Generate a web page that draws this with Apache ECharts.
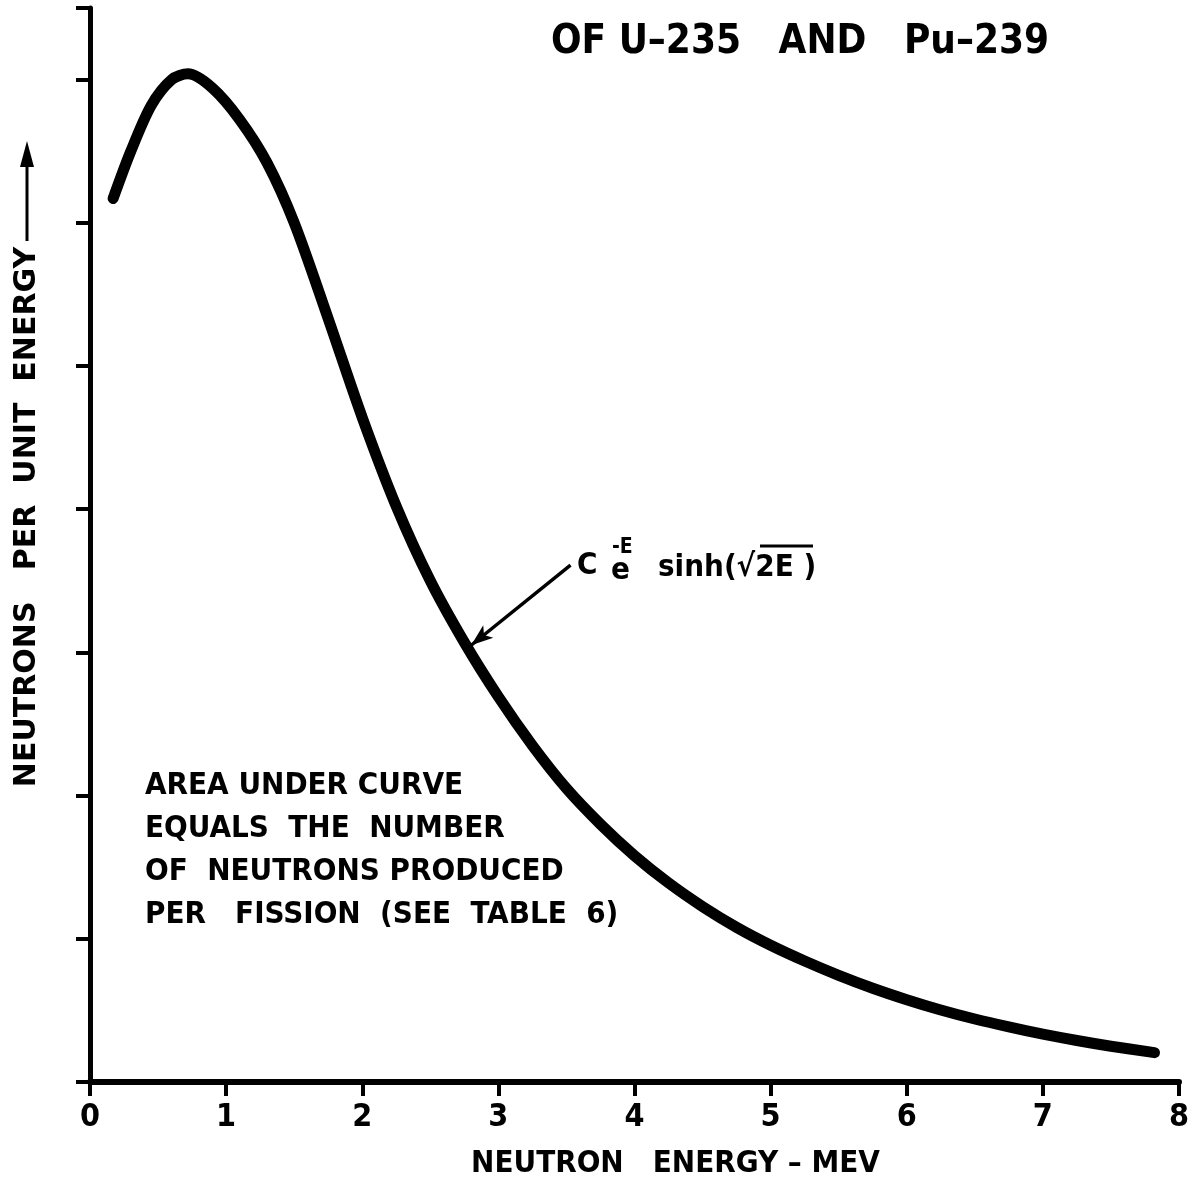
<!DOCTYPE html>
<html>
<head>
<meta charset="utf-8">
<script src="https://cdn.jsdelivr.net/npm/echarts@6/dist/echarts.min.js"></script>
<style>
  html, body { margin: 0; padding: 0; background: #fff; }
  #chart { width: 1193px; height: 1189px; }
</style>
</head>
<body>
<div id="chart"></div>
<script>
// fission neutron spectrum (arbitrary units)
var energy = [0.17, 0.30, 0.45, 0.60, 0.72, 0.90, 1.10, 1.30, 1.50, 1.75, 2.00, 2.25, 2.50, 2.75, 3.00, 3.25, 3.50, 3.75, 4.00, 4.25, 4.50, 4.75, 5.00, 5.25, 5.50, 5.75, 6.00, 6.25, 6.50, 6.75, 7.00, 7.25, 7.50, 7.82];
var neutrons = [6.17, 6.50, 6.82, 7.00, 7.04, 6.94, 6.72, 6.42, 6.00, 5.33, 4.64, 4.02, 3.50, 3.07, 2.69, 2.35, 2.05, 1.80, 1.58, 1.39, 1.225, 1.08, 0.955, 0.845, 0.745, 0.655, 0.575, 0.503, 0.44, 0.385, 0.335, 0.29, 0.25, 0.205];
var xTicks = ['0', '1', '2', '3', '4', '5', '6', '7', '8'];
// arrow from the formula to the curve, in data coords
var arrowFrom = [3.53, 3.61];
var arrowTo = [2.80, 3.05];

var noteLines = [
  'AREA UNDER CURVE',
  'EQUALS  THE  NUMBER',
  'OF  NEUTRONS PRODUCED',
  'PER   FISSION  (SEE  TABLE  6)'
];

var font = '"DejaVu Sans Condensed", "DejaVu Sans", sans-serif';
var wideFont = '"DejaVu Sans", sans-serif';

var pts = [];
for (var i = 0; i < energy.length; i++) {
  pts.push([energy[i], neutrons[i]]);
}

var graphics = [];
// title
graphics.push({
  type: 'text', x: 800, y: 43,
  style: { text: 'OF U\u2013235   AND   Pu\u2013239', font: 'bold 40px ' + font, fill: '#000', align: 'center', verticalAlign: 'middle' }
});
// note block
for (var k = 0; k < noteLines.length; k++) {
  graphics.push({
    type: 'text', x: 145, y: 786 + k * 43,
    style: { text: noteLines[k], font: 'bold 31px ' + font, fill: '#000', align: 'left', verticalAlign: 'middle' }
  });
}
// formula
graphics.push({ type: 'text', x: 577, y: 566, style: { text: 'C', font: 'bold 31px ' + font, fill: '#000', verticalAlign: 'middle' } });
graphics.push({ type: 'text', x: 611, y: 571, style: { text: 'e', font: 'bold 31px ' + font, fill: '#000', verticalAlign: 'middle' } });
graphics.push({ type: 'text', x: 612, y: 548, style: { text: '-E', font: 'bold 21px ' + font, fill: '#000', verticalAlign: 'middle' } });
graphics.push({ type: 'text', x: 658, y: 568, style: { text: 'sinh(\u221A2E )', font: 'bold 31px ' + font, fill: '#000', verticalAlign: 'middle' } });
graphics.push({ type: 'line', shape: { x1: 760, y1: 546, x2: 813, y2: 546 }, style: { stroke: '#000', lineWidth: 3 } });
// y axis title with arrow
graphics.push({
  type: 'group', x: 27, y: 517, rotation: Math.PI / 2,
  children: [
    { type: 'text', x: 0, y: 0, style: { text: 'NEUTRONS   PER  UNIT  ENERGY', font: 'bold 30px ' + wideFont, fill: '#000', align: 'center', verticalAlign: 'middle' } },
    { type: 'line', shape: { x1: 276, y1: 0, x2: 355, y2: 0 }, style: { stroke: '#000', lineWidth: 3 } },
    { type: 'polygon', shape: { points: [[376, 0], [350, -7], [350, 7]] }, style: { fill: '#000' } }
  ]
});

var chart = echarts.init(document.getElementById('chart'));
chart.setOption({
  animation: false,
  backgroundColor: '#fff',
  grid: { left: 90, right: 14, top: 8, bottom: 107, containLabel: false },
  xAxis: {
    type: 'value', min: 0, max: 8, interval: 1,
    name: 'NEUTRON   ENERGY \u2013 MEV', nameLocation: 'middle', nameGap: 82,
    nameTextStyle: { fontFamily: font, fontWeight: 'bold', fontSize: 31, color: '#000', verticalAlign: 'middle', padding: [0, 0, 0, 82] },
    axisLine: { lineStyle: { color: '#000', width: 6 } },
    axisTick: { show: true, inside: false, length: 14, lineStyle: { color: '#000', width: 4 } },
    axisLabel: {
      color: '#000', fontFamily: font, fontWeight: 'bold', fontSize: 32, margin: 20,
      formatter: function (v) { return xTicks[Math.round(v)]; }
    },
    splitLine: { show: false }
  },
  yAxis: {
    type: 'value', min: 0, max: 7.5, interval: 1,
    axisLine: { show: true, lineStyle: { color: '#000', width: 5 } },
    axisTick: { show: true, inside: false, length: 14, lineStyle: { color: '#000', width: 4 } },
    axisLabel: { show: false },
    splitLine: { show: false }
  },
  series: [{
    type: 'line',
    data: pts,
    smooth: 0.3,
    showSymbol: false,
    lineStyle: { color: '#000', width: 11, cap: 'round', join: 'round' },
    markLine: {
      silent: true,
      symbol: ['none', 'arrow'],
      symbolSize: [12, 22],
      label: { show: false },
      lineStyle: { color: '#000', width: 3.5, type: 'solid' },
      data: [[{ coord: arrowFrom }, { coord: arrowTo }]]
    }
  }],
  graphic: graphics
});
</script>
</body>
</html>
